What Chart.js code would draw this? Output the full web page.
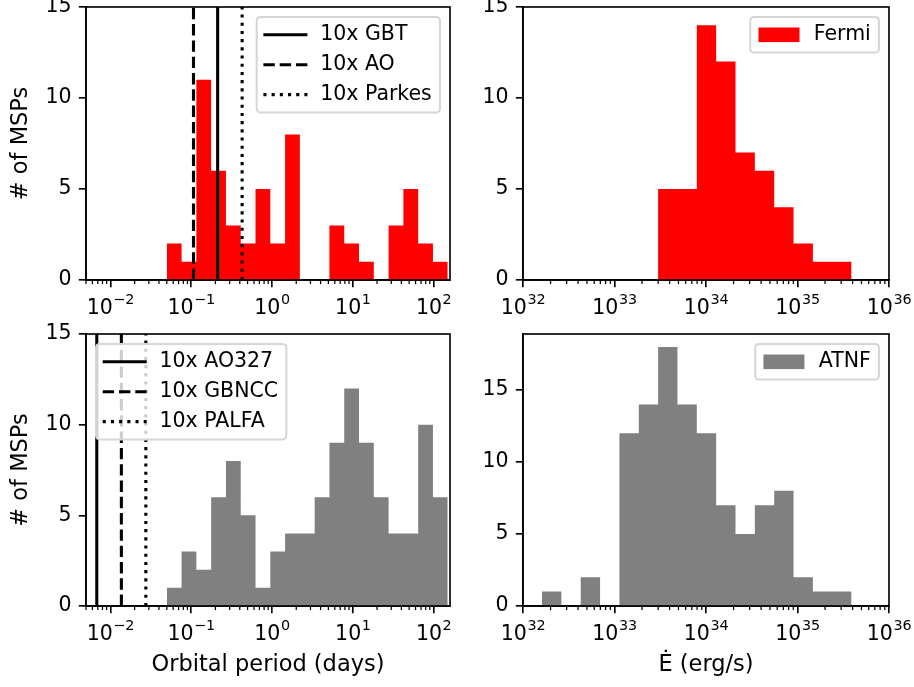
<!DOCTYPE html>
<html>
<head>
<meta charset="utf-8">
<script src="https://cdn.jsdelivr.net/npm/chart.js@4.4.0/dist/chart.umd.min.js"></script>
<style>
html, body { margin: 0; padding: 0; background: #fff; overflow: hidden; }
#wrap { position: relative; width: 914px; height: 687px; overflow: hidden; background: #fff; }
#wrap canvas { position: absolute; left: -40px; top: -40px; }
</style>
</head>
<body>
<div id="wrap">
  <canvas id="cTL" width="994" height="767"></canvas>
  <canvas id="cTR" width="994" height="767"></canvas>
  <canvas id="cBL" width="994" height="767"></canvas>
  <canvas id="cBR" width="994" height="767"></canvas>
</div>
<script>
// ---------------- data ----------------
const periodBinEdges = [0.05, 0.0762, 0.1161, 0.1770, 0.2698, 0.4112, 0.6267, 0.9551, 1.4556, 2.2184,
                        3.381, 5.153, 7.855, 11.97, 18.24, 27.81, 42.38, 64.59, 98.43, 150.0];
const fermiPeriodCounts = [2, 1, 11, 6, 3, 2, 5, 2, 8, 0, 0, 3, 2, 1, 0, 3, 5, 2, 1];
const atnfPeriodCounts  = [1, 3, 2, 6, 8, 5, 1, 3, 4, 4, 6, 9, 12, 9, 6, 4, 4, 10, 6];

const edotBinEdges = [1.614e32, 2.627e32, 4.275e32, 6.957e32, 1.132e33, 1.842e33, 2.996e33, 4.877e33,
                      7.935e33, 1.291e34, 2.101e34, 3.418e34, 5.564e34, 9.052e34, 1.473e35, 2.397e35, 3.899e35];
const fermiEdotCounts = [0, 0, 0, 0, 0, 0, 5, 5, 14, 12, 7, 6, 4, 2, 1, 1];
const atnfEdotCounts  = [1, 0, 2, 0, 12, 14, 18, 14, 12, 7, 5, 7, 8, 2, 1, 1];

const fermiLimitLabels  = ['10x GBT', '10x AO', '10x Parkes'];
const fermiLimitPeriods = [0.213, 0.107, 0.428];
const atnfLimitLabels   = ['10x AO327', '10x GBNCC', '10x PALFA'];
const atnfLimitPeriods  = [0.0068, 0.0137, 0.0275];

const fermiLegendLabel = 'Fermi';
const atnfLegendLabel  = 'ATNF';

// tick labels: base "10" with superscript exponent
const tickBase = '10';
const periodTickValues = [0.01, 0.1, 1, 10, 100];
const periodTickExponents = ['\u22122', '\u22121', '0', '1', '2'];
const edotTickValues = [1e32, 1e33, 1e34, 1e35, 1e36];
const edotTickExponents = ['32', '33', '34', '35', '36'];
const countTickValues = [0, 5, 10, 15];
const countTickLabels = ['0', '5', '10', '15'];

const periodAxisTitle = 'Orbital period (days)';
const edotAxisTitle = '\u0116 (erg/s)';
const countAxisTitle = '# of MSPs';

// ---------------- styling / layout ----------------
const M = 40, CW = 914 + 2 * M, CH = 687 + 2 * M;
const FAM = '"DejaVu Sans", "Liberation Sans", sans-serif';
const tickFont = { family: FAM, size: 20.5 };
const titleFont = { family: FAM, size: 22.5 };
const RED = '#ff0000', GRAY = '#808080';
const DASHES = { solid: [], dashed: [11.4, 4.9], dotted: [3.1, 5.1] };

Chart.defaults.color = '#000';

function minorTicksBetween(lo, hi) {
  const out = [];
  for (let e = Math.floor(Math.log10(lo)); e <= Math.ceil(Math.log10(hi)); e++) {
    for (let m = 2; m <= 9; m++) {
      const v = m * Math.pow(10, e);
      if (v >= lo && v <= hi) out.push(v);
    }
  }
  return out;
}

const mplPlugin = {
  id: 'mpl',
  afterDatasetsDraw(chart, args, opts) {
    const { ctx, chartArea: a } = chart;
    const xs = chart.scales.x;
    ctx.save();
    // minor ticks
    ctx.strokeStyle = '#000';
    ctx.lineWidth = 1.23;
    ctx.setLineDash([]);
    for (const v of opts.minor || []) {
      const px = xs.getPixelForValue(v);
      if (px < a.left - 0.5 || px > a.right + 0.5) continue;
      ctx.beginPath();
      ctx.moveTo(px, a.bottom);
      ctx.lineTo(px, a.bottom + 4.1);
      ctx.stroke();
    }
    // frame (all four spines)
    ctx.lineWidth = 1.64;
    ctx.strokeRect(a.left, a.top, a.right - a.left, a.bottom - a.top);

    // x tick labels: 10 with raised exponent (mathtext style)
    const baseFont = '20.5px ' + FAM, expFont = '14.35px ' + FAM;
    ctx.fillStyle = '#000';
    ctx.textBaseline = 'alphabetic';
    ctx.textAlign = 'left';
    (opts.xTicks || []).forEach((v, i) => {
      const px = xs.getPixelForValue(v);
      ctx.font = baseFont;
      const wb = ctx.measureText(tickBase).width;
      ctx.font = expFont;
      const we = ctx.measureText(opts.xExps[i]).width;
      const x0 = px - (wb + we) / 2;
      const yb = a.bottom + 33.5;
      ctx.font = baseFont;
      ctx.fillText(tickBase, x0, yb);
      ctx.font = expFont;
      ctx.fillText(opts.xExps[i], x0 + wb + 0.5, yb - 9.5);
    });

    // legend
    const items = opts.items || [];
    if (items.length) {
      ctx.font = '20.5px ' + FAM;
      const tw = Math.max(...items.map(it => ctx.measureText(it.label).width));
      const w = 63.5 + tw + 8.2;
      const h = 35.6 + (items.length - 1) * 29.9;
      const x0 = opts.corner === 'upper left' ? a.left + 10 : a.right - 10 - w;
      const y0 = a.top + 10;
      const r = 4.1;
      ctx.beginPath();
      ctx.moveTo(x0 + r, y0);
      ctx.lineTo(x0 + w - r, y0);
      ctx.quadraticCurveTo(x0 + w, y0, x0 + w, y0 + r);
      ctx.lineTo(x0 + w, y0 + h - r);
      ctx.quadraticCurveTo(x0 + w, y0 + h, x0 + w - r, y0 + h);
      ctx.lineTo(x0 + r, y0 + h);
      ctx.quadraticCurveTo(x0, y0 + h, x0, y0 + h - r);
      ctx.lineTo(x0, y0 + r);
      ctx.quadraticCurveTo(x0, y0, x0 + r, y0);
      ctx.closePath();
      ctx.fillStyle = 'rgba(255,255,255,0.8)';
      ctx.fill();
      ctx.strokeStyle = '#d6d6d6';
      ctx.lineWidth = 2;
      ctx.stroke();
      items.forEach((it, i) => {
        const cy = y0 + 17.8 + i * 29.9;
        if (it.kind === 'patch') {
          ctx.fillStyle = it.color;
          ctx.fillRect(x0 + 8.2, cy - 7.3, 41, 14.6);
        } else {
          ctx.strokeStyle = '#000';
          ctx.lineWidth = 3.08;
          ctx.setLineDash(DASHES[it.style]);
          ctx.lineCap = it.style === 'solid' ? 'square' : 'butt';
          ctx.beginPath();
          ctx.moveTo(x0 + 8.2 + (it.style === 'solid' ? 0 : -1.5), cy);
          ctx.lineTo(x0 + 8.2 + 41 - (it.style === 'solid' ? 0 : -1.5), cy);
          ctx.stroke();
          ctx.setLineDash([]);
          ctx.lineCap = 'butt';
        }
        ctx.fillStyle = '#000';
        ctx.textBaseline = 'middle';
        ctx.textAlign = 'left';
        ctx.font = '20.5px ' + FAM;
        ctx.fillText(it.label, x0 + 63.5, cy);
      });
    }
    ctx.restore();
  }
};

function histPoints(edges, counts) {
  const pts = counts.map((c, i) => ({ x: edges[i], y: c }));
  pts.push({ x: edges[edges.length - 1], y: counts[counts.length - 1] });
  return pts;
}

function histDataset(edges, counts, color, label) {
  return {
    label, data: histPoints(edges, counts), stepped: true, fill: 'origin',
    backgroundColor: color, borderColor: 'rgba(0,0,0,0)', borderWidth: 0,
    pointRadius: 0, pointHoverRadius: 0, order: 2
  };
}

function vlineDataset(v, yTop, style, label) {
  return {
    label, data: [{ x: v, y: 0 }, { x: v, y: yTop }], borderColor: '#000', borderWidth: 3.08,
    borderDash: DASHES[style], borderCapStyle: 'butt', pointRadius: 0, pointHoverRadius: 0, fill: false, order: 1
  };
}

function panel(id, rect, cfg) {
  const [L, T, R, B] = rect;
  const yW = 86, xH = 81;
  new Chart(document.getElementById(id), {
    type: 'line',
    data: { datasets: cfg.datasets },
    options: {
      responsive: false, animation: false, devicePixelRatio: 1, events: [],
      layout: { padding: { left: L + M - yW, top: T + M, right: CW - (R + M), bottom: CH - (B + M) - xH } },
      plugins: {
        legend: { display: false }, tooltip: { enabled: false },
        mpl: { minor: cfg.minor, items: cfg.legend, corner: cfg.corner, xTicks: cfg.xTicks, xExps: cfg.xExps }
      },
      scales: {
        x: {
          type: 'logarithmic', min: cfg.xMin, max: cfg.xMax,
          afterBuildTicks: ax => { ax.ticks = cfg.xTicks.map(v => ({ value: v })); },
          afterFit: ax => { ax.height = xH; },
          ticks: { display: false, autoSkip: false, maxRotation: 0, minRotation: 0 },
          grid: { display: true, drawOnChartArea: false, drawTicks: true, tickLength: 7.2, color: '#000', lineWidth: 1.64 },
          border: { display: true, color: '#000', width: 1.64 },
          title: { display: !!cfg.xTitle, text: cfg.xTitle || '', font: titleFont, color: '#000', padding: { top: 0, bottom: 8.5 } }
        },
        y: {
          type: 'linear', min: 0, max: cfg.yMax,
          afterBuildTicks: ax => { ax.ticks = countTickValues.map(v => ({ value: v })); },
          afterFit: ax => { ax.width = yW; },
          ticks: { padding: 7.2, font: tickFont, color: '#000', callback: (v, i) => countTickLabels[i] },
          grid: { display: true, drawOnChartArea: false, drawTicks: true, tickLength: 7.2, color: '#000', lineWidth: 1.64 },
          border: { display: true, color: '#000', width: 1.64 },
          title: { display: !!cfg.yTitle, text: cfg.yTitle || '', font: titleFont, color: '#000', padding: { top: 7.5, bottom: 0 } }
        }
      }
    },
    plugins: [mplPlugin]
  });
}

const styles = ['solid', 'dashed', 'dotted'];
const periodMin = 0.005, periodMax = 160;
const edotMin = 1e32, edotMax = 1e36;

// top-left: Fermi orbital period
panel('cTL', [86, 7, 450, 280], {
  datasets: [
    ...fermiLimitPeriods.map((v, i) => vlineDataset(v, 15, styles[i], fermiLimitLabels[i])),
    histDataset(periodBinEdges, fermiPeriodCounts, RED, fermiLegendLabel)
  ],
  xMin: periodMin, xMax: periodMax, xTicks: periodTickValues, xExps: periodTickExponents,
  minor: minorTicksBetween(periodMin, periodMax), yMax: 15, yTitle: countAxisTitle,
  legend: fermiLimitLabels.map((l, i) => ({ label: l, kind: 'line', style: styles[i] })), corner: 'upper right'
});

// top-right: Fermi Edot
panel('cTR', [523, 7, 889, 280], {
  datasets: [histDataset(edotBinEdges, fermiEdotCounts, RED, fermiLegendLabel)],
  xMin: edotMin, xMax: edotMax, xTicks: edotTickValues, xExps: edotTickExponents,
  minor: minorTicksBetween(edotMin, edotMax), yMax: 15,
  legend: [{ label: fermiLegendLabel, kind: 'patch', color: RED }], corner: 'upper right'
});

// bottom-left: ATNF orbital period
panel('cBL', [86, 334, 450, 606], {
  datasets: [
    ...atnfLimitPeriods.map((v, i) => vlineDataset(v, 15, styles[i], atnfLimitLabels[i])),
    histDataset(periodBinEdges, atnfPeriodCounts, GRAY, atnfLegendLabel)
  ],
  xMin: periodMin, xMax: periodMax, xTicks: periodTickValues, xExps: periodTickExponents,
  minor: minorTicksBetween(periodMin, periodMax), yMax: 15, yTitle: countAxisTitle, xTitle: periodAxisTitle,
  legend: atnfLimitLabels.map((l, i) => ({ label: l, kind: 'line', style: styles[i] })), corner: 'upper left'
});

// bottom-right: ATNF Edot
panel('cBR', [523, 334, 889, 606], {
  datasets: [histDataset(edotBinEdges, atnfEdotCounts, GRAY, atnfLegendLabel)],
  xMin: edotMin, xMax: edotMax, xTicks: edotTickValues, xExps: edotTickExponents,
  minor: minorTicksBetween(edotMin, edotMax), yMax: 18.9, xTitle: edotAxisTitle,
  legend: [{ label: atnfLegendLabel, kind: 'patch', color: GRAY }], corner: 'upper right'
});
</script>
</body>
</html>
